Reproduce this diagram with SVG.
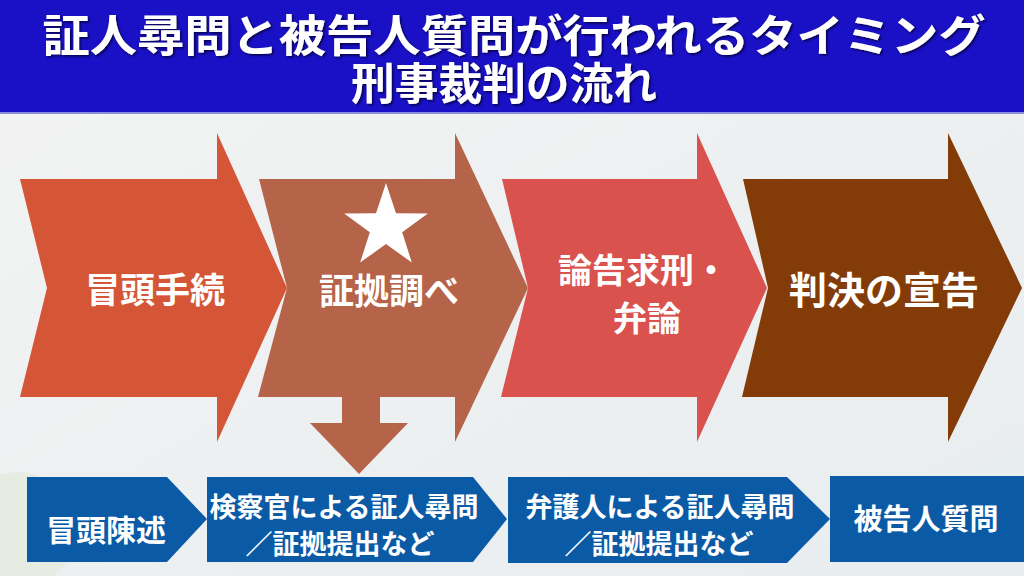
<svg xmlns="http://www.w3.org/2000/svg" width="1024" height="576" viewBox="0 0 1024 576">
  <defs>
    <linearGradient id="bg" x1="0" y1="0" x2="1" y2="1">
      <stop offset="0" stop-color="#f3f3f3"/>
      <stop offset="1" stop-color="#e8edef"/>
    </linearGradient>
    <filter id="sh" x="-5%" y="-20%" width="110%" height="140%">
      <feDropShadow dx="1.5" dy="1.5" stdDeviation="1" flood-color="#000033" flood-opacity="0.85"/>
    </filter>
    <style>
      text { font-family: "Noto Sans CJK JP", "Noto Sans", sans-serif; font-weight: 700; fill: #ffffff; text-anchor: middle; }
      .title { font-size: 44px; }
      .big { font-size: 35px; }
      .box { fill: #0b5aa6; }
      .bt { font-size: 27px; }
    </style>
  </defs>

  <rect width="1024" height="576" fill="url(#bg)"/>
  <circle cx="18" cy="530" r="58" fill="#e3eadc" opacity="0.7"/>

  <g id="title">
    <rect x="0" y="0" width="1024" height="113" fill="#1a10c6"/>
    <rect x="0" y="112" width="1024" height="2" fill="#8a8ed6"/>
    <g filter="url(#sh)">
      <text class="title" x="514" y="52" textLength="943" lengthAdjust="spacingAndGlyphs">証人尋問と被告人質問が行われるタイミング</text>
      <text class="title" x="504" y="100" textLength="306" lengthAdjust="spacingAndGlyphs">刑事裁判の流れ</text>
    </g>
  </g>

  <g id="step1">
    <polygon points="20,179 217,179 217,133 287,288 217,442 217,397 20,397 47,288" fill="#d45637"/>
    <text class="big" x="155" y="303">冒頭手続</text>
  </g>
  <g id="step2">
    <polygon points="259,179 455,179 455,133 528,288 455,442 455,397 258,397 287,288" fill="#b5644a"/>
    <polygon points="386,183 395.99,213.25 427.85,213.4 402.17,232.25 411.86,262.6 386,244 360.14,262.6 369.83,232.25 344.15,213.4 376.01,213.25" fill="#ffffff"/>
    <text class="big" x="389" y="304">証拠調べ</text>
  </g>
  <g id="step3">
    <polygon points="502,179 697,179 697,133 767,288 697,442 697,397 501,397 528,288" fill="#d9524e"/>
    <text class="big" x="643" y="283" style="font-size:34px">論告求刑・</text>
    <text class="big" x="647" y="331" style="font-size:34px">弁論</text>
  </g>
  <g id="step4">
    <polygon points="743,179 948,179 948,133 1022,288 948,442 948,397 742,397 768,288" fill="#833b07"/>
    <text class="big" x="884" y="304" style="font-size:38px">判決の宣告</text>
  </g>

  <g id="connectors">
    <polygon points="342,396 380,396 380,423 408,423 359,474 310,423 342,423" fill="#b5644a"/>
  </g>

  <g id="box1">
    <polygon class="box" points="27,477 167,477 207,519 167,562 27,562"/>
    <text x="106" y="541" style="font-size:30px">冒頭陳述</text>
  </g>
  <g id="box2">
    <polygon class="box" points="207,477 473,477 507,519 473,562 207,562"/>
    <text class="bt" x="344" y="517">検察官による証人尋問</text>
    <text class="bt" x="340" y="554">／証拠提出など</text>
  </g>
  <g id="box3">
    <polygon class="box" points="508,477 787,477 830,519 787,563 508,563"/>
    <text class="bt" x="660" y="517">弁護人による証人尋問</text>
    <text class="bt" x="659" y="554">／証拠提出など</text>
  </g>
  <g id="box4">
    <rect class="box" x="830" y="476" width="194" height="86"/>
    <text x="926" y="530" style="font-size:29px">被告人質問</text>
  </g>
</svg>
